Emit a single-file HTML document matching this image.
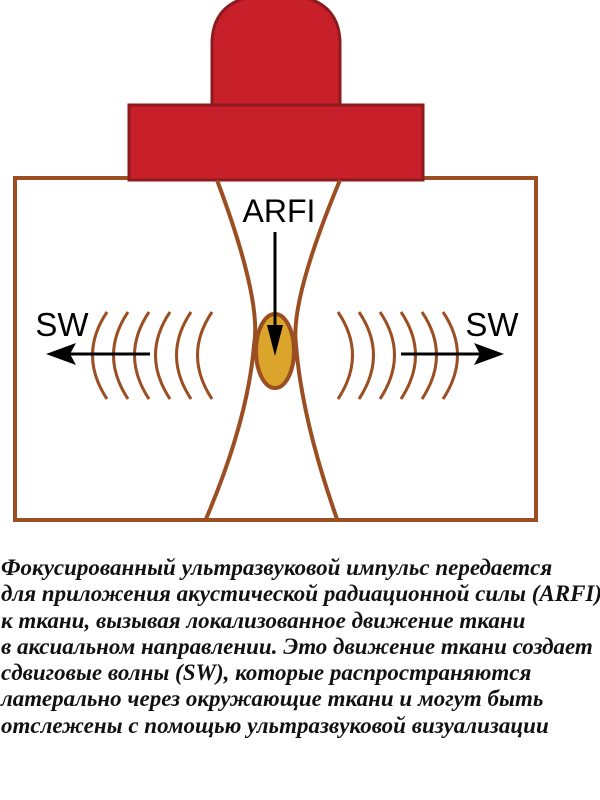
<!DOCTYPE html>
<html><head><meta charset="utf-8"><style>
body{margin:0;width:600px;height:800px;background:#fff;overflow:hidden;position:relative}
.t{position:absolute;left:1px;top:555px;font-family:"Liberation Serif","Noto Serif CJK SC",serif;font-style:italic;font-weight:bold;font-size:23px;line-height:26.3px;color:#111;white-space:nowrap}
</style></head><body>
<svg width="600" height="540" style="position:absolute;left:0;top:0" font-family="Liberation Sans, sans-serif">
<rect x="15" y="178" width="521" height="342" fill="#fff" stroke="#9a4e22" stroke-width="4"/>
<path d="M212,118 V44 Q212,-6 276,-6 Q340,-6 340,44 V118 Z" fill="#c8202a" stroke="#8e1a1e" stroke-width="3"/>
<rect x="129" y="105" width="294" height="75" fill="#c8202a" stroke="#8e1a1e" stroke-width="3"/>
<path d="M217,180 Q262,300 254,345 Q248,420 206,519" fill="none" stroke="#9a4e22" stroke-width="4"/>
<path d="M340,180 Q290,300 296,345 Q302,420 337,519" fill="none" stroke="#9a4e22" stroke-width="4"/>
<ellipse cx="275" cy="351" rx="19" ry="37" fill="#daa52a" stroke="#9a4e22" stroke-width="4"/>
<line x1="275" y1="232" x2="275" y2="330" stroke="#000" stroke-width="3"/>
<path d="M267,325 L283,325 L275,356 Z" fill="#000"/>
<text x="279" y="222" font-size="32" text-anchor="middle">ARFI</text>
<text x="62" y="336" font-size="33" text-anchor="middle">SW</text>
<text x="492" y="336" font-size="33" text-anchor="middle">SW</text>
<g fill="none" stroke="#9a4e22" stroke-width="3">
<path d="M107,312 Q78,355 107,399"/><path d="M128,312 Q99,355 128,399"/><path d="M149,312 Q120,355 149,399"/>
<path d="M170,312 Q141,355 170,399"/><path d="M191,312 Q162,355 191,399"/><path d="M212,312 Q183,355 212,399"/>
<path d="M338,312 Q367,355 338,399"/><path d="M359,312 Q388,355 359,399"/><path d="M380,312 Q409,355 380,399"/>
<path d="M401,312 Q430,355 401,399"/><path d="M422,312 Q451,355 422,399"/><path d="M443,312 Q472,355 443,399"/>
</g>
<line x1="150" y1="354" x2="70" y2="354" stroke="#000" stroke-width="3"/>
<path d="M46,354 L76,343 L70,354 L76,365 Z" fill="#000"/>
<line x1="401" y1="354" x2="482" y2="354" stroke="#000" stroke-width="3"/>
<path d="M504,354 L474,343 L480,354 L474,365 Z" fill="#000"/>
</svg>
<div class="t">Фокусированный ультразвуковой импульс передается<br>для приложения акустической радиационной силы (ARFI)<br>к ткани, вызывая локализованное движение ткани<br>в аксиальном направлении. Это движение ткани создает<br>сдвиговые волны (SW), которые распространяются<br>латерально через окружающие ткани и могут быть<br>отслежены с помощью ультразвуковой визуализации</div>
</body></html>
